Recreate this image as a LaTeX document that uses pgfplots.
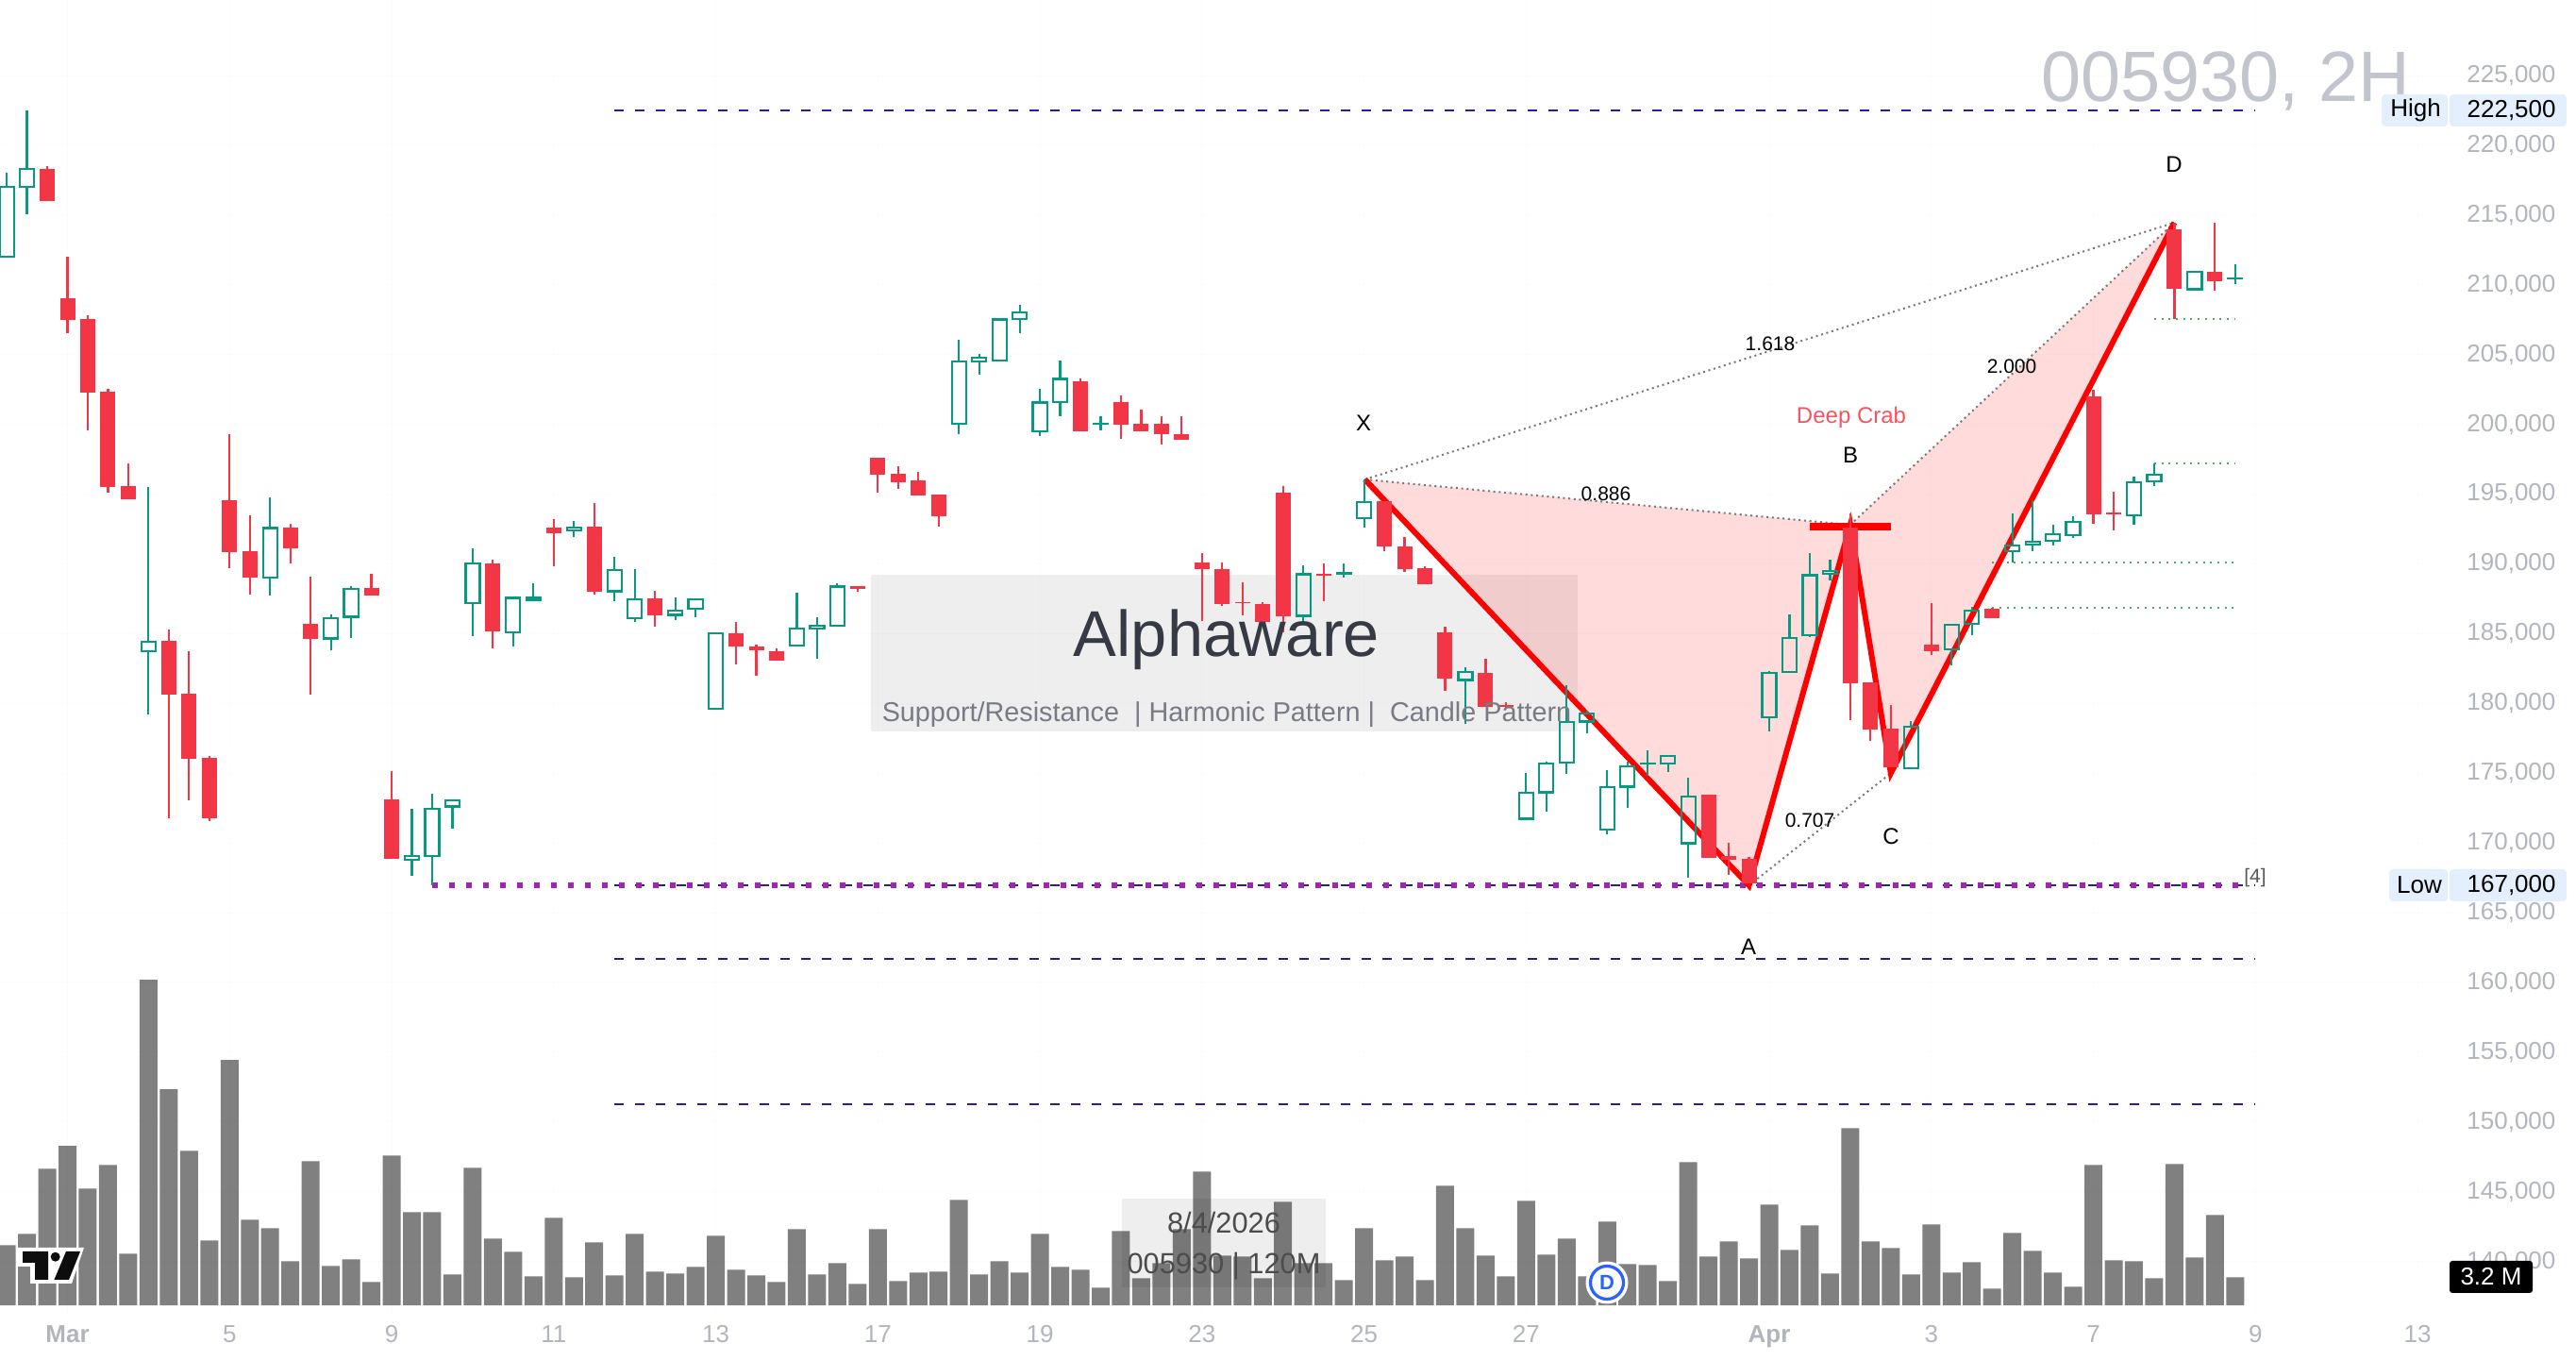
\documentclass[border=0pt]{standalone}
\usepackage{fontspec}
\setmainfont{Liberation Sans}
\usepackage{pgfplots}
\usepackage{pgfplotstable}
\pgfplotsset{compat=1.18}

\definecolor{upc}{HTML}{089981}
\definecolor{downc}{HTML}{F23645}
\definecolor{ticktxt}{HTML}{B2B5BE}
\definecolor{lvl}{HTML}{311B92}
\definecolor{lowdot}{HTML}{9C27B0}
\definecolor{sr}{HTML}{4CAF50}
\definecolor{dots}{HTML}{787878}
\definecolor{tagbg}{HTML}{E3EFFD}
\definecolor{wmark}{HTML}{363A45}
\definecolor{wsub}{HTML}{787B86}
\definecolor{titlec}{HTML}{C3C5CE}
\definecolor{badge}{HTML}{2962FF}

% bodies are top/bot, wicks high/low
\pgfplotstableread{
i top bot high low
0 216998 211989 218047 211989
1 218280 216998 222512 215056
7 184420 183760 195525 179217
13 192574 189041 194748 187720
16 186129 184653 186361 183798
17 188225 186206 188419 184691
20 169044 168810 172421 167645
21 172460 169044 173508 166985
22 173043 172616 173043 171023
23 190050 187176 191098 184808
25 187565 185079 187565 184070
26 187565 187400 188614 187332
28 192612 192379 193080 191914
30 189545 188031 190516 187332
31 187449 186129 189623 185817
33 186651 186349 187587 185986
34 187466 186771 187466 186168
35 185020 179614 185020 179614
39 185382 184174 187919 184053
40 185593 185382 186168 183208
41 188372 185593 188614 185533
47 204529 200029 206069 199304
48 204771 204529 205042 203563
49 207519 204559 207519 204559
50 208002 207549 208576 206522
51 201569 199486 202536 199153
52 203261 201600 204589 200573
54 200060 200060 200573 199576
64 189250 186277 189890 185682
66 189319 189319 190005 189044
67 194441 193252 196042 192612
72 182252 181680 182595 178547
75 173607 171731 175002 171617
76 175711 173630 175848 172235
77 178685 175734 181291 174933
78 179302 178707 179508 177861
79 174018 170931 175208 170611
80 175505 174041 175848 172509
81 175689 175689 176626 174842
82 176237 175689 176237 175070
83 173333 169970 174682 167500
87 182206 179004 182343 177975
88 184699 182229 186368 182229
89 189181 184882 190782 184745
90 189502 189296 190302 188815
94 178323 175328 178760 175328
96 185625 183875 185726 182698
97 186634 185692 186937 184919
99 191312 190908 193600 190100
100 191581 191379 194542 190941
101 192119 191682 192827 191312
102 193028 192052 193398 191884
105 195855 193466 196259 192793
106 196393 195922 197200 195552
108 210930 209685 210930 209550
110 210459 210459 211468 210055
}\upcandles

\pgfplotstableread{
i top bot high low
2 218318 215988 218512 215988
3 209038 207485 212028 206553
4 207562 202282 207834 199563
5 202359 195525 202553 195097
6 195564 194632 197195 194632
8 184497 180615 185273 171762
9 180692 176032 183720 173043
10 176110 171762 176265 171567
11 194554 190827 199291 189701
12 190905 189003 193467 187798
14 192612 191098 192885 190011
15 185702 184613 189080 180615
18 188264 187720 189273 187720
19 173120 168849 175138 168849
24 190011 185157 190283 183954
27 192612 192185 193196 189817
29 192651 187992 194360 187798
32 187526 186322 188070 185507
36 185020 184053 185835 182785
37 184084 183782 184204 181970
38 183751 183057 183933 183057
42 188433 188191 188433 188010
43 197613 196375 197613 195107
44 196466 195862 197009 195379
45 195983 194895 196586 194895
46 194956 193415 194956 192660
53 203079 199516 203291 199516
55 201600 199969 202083 198972
56 200029 199516 201056 199516
57 200029 199304 200573 198549
58 199304 198882 200573 198882
59 190093 189610 190788 185896
60 189610 187134 190093 187013
61 187290 187160 188674 186319
62 187134 185835 187225 185835
63 195105 186254 195562 185088
65 189320 189180 190005 187329
68 194487 191240 194487 190920
69 191240 189616 191926 189410
70 189684 188541 189799 188541
71 185088 181771 185500 180902
73 182183 179736 183189 179736
74 179900 179760 180080 179622
84 173447 168919 173447 168919
85 169056 168782 170016 167707
86 168851 167089 168965 167089
91 192612 181428 193595 178798
92 181520 178155 181520 177347
93 178188 175395 179871 175395
95 184212 183774 187173 183471
98 186769 186130 186836 186130
103 202012 193566 202484 192893
104 193670 193530 195181 192388
107 213992 209685 214463 207531
109 210964 210223 214463 209550
}\downcandles

% volume in millions
\pgfplotstableread{
i v
0 6.86
1 8.15
2 15.58
3 18.17
4 13.32
5 16.01
6 5.89
7 37.12
8 24.63
9 17.63
10 7.40
11 27.97
12 9.76
13 8.80
14 5.03
15 16.44
16 4.49
17 5.24
18 2.66
19 17.09
20 10.63
21 10.63
22 3.52
23 15.69
24 7.61
25 6.10
26 3.30
27 9.98
28 3.20
29 7.18
30 3.41
31 8.15
32 3.84
33 3.63
34 4.38
35 7.93
36 4.06
37 3.41
38 2.66
39 8.69
40 3.52
41 4.81
42 2.44
43 8.69
44 2.76
45 3.73
46 3.84
47 12.03
48 3.52
49 5.03
50 3.73
51 8.15
52 4.38
53 4.06
54 2.01
55 8.47
56 3.09
57 4.81
58 8.69
59 15.26
60 5.67
61 5.56
62 3.09
63 11.81
64 4.81
65 4.81
66 2.87
67 8.80
68 5.13
69 5.56
70 2.87
71 13.64
72 8.80
73 5.67
74 3.30
75 11.92
76 5.78
77 7.61
78 3.30
79 9.55
80 4.70
81 4.60
82 2.76
83 16.33
84 5.56
85 7.29
86 5.35
87 11.49
88 6.32
89 9.12
90 3.63
91 20.21
92 7.29
93 6.53
94 3.52
95 9.23
96 3.73
97 4.92
98 1.90
99 8.26
100 6.21
101 3.73
102 2.12
103 16.01
104 5.13
105 5.03
106 3.09
107 16.12
108 5.46
109 10.30
110 3.20
}\volumes

\pgfplotsset{
  base/.style={
    scale only axis, width=1304pt, height=697.5pt,
    xmin=-0.331, xmax=121.14,
    axis line style={draw=none}, tick style={draw=none},
  },
  wick/.style={no markers, line width=1.1pt, #1},
}
\tikzset{
  lab/.style={font=\fontsize{12}{14}\selectfont, inner sep=0pt, text=black},
  ratio/.style={font=\fontsize{10.5}{12}\selectfont, inner sep=0pt, text=black},
}

\begin{document}
\begin{tikzpicture}
\useasboundingbox (0,-22.5pt) rectangle (1365pt,697.5pt);

% watermark panel, sits under the pattern
\begin{scope}[x=0.5pt,y=-0.5pt,yshift=697.5pt]
  \fill[black!6.5] (923,609) rectangle (1672,775);
\end{scope}

% volume
\begin{axis}[base, ymin=-1.29, ymax=148.9, xtick=\empty, ytick=\empty]
\addplot[ybar, bar width=9.5pt, bar shift=0pt, fill=black!50, draw=none] table[x=i,y=v] {\volumes};
\end{axis}

% price
\begin{axis}[base, ymin=136055, ymax=230414,
  xtick={3,11,19,27,35,43,51,59,67,75,87,95,103,111,119},
  xticklabels={\textbf{Mar},5,9,11,13,17,19,23,25,27,\textbf{Apr},3,7,9,13},
  ytick={140000,145000,...,225000},
  yticklabel pos=right,
  grid=major, major grid style={draw=black, opacity=0.012, line width=0.5pt},
  ticklabel style={text=ticktxt, font=\fontsize{13}{15}\selectfont},
  xticklabel style={inner sep=0pt, yshift=-4.6pt},
  yticklabel style={anchor=west, inner sep=0pt, xshift=3pt,
    /pgf/number format/.cd, assume math mode=true, 1000 sep={,}, fixed},
  scaled y ticks=false,
]
% pattern fill
\addplot[fill=red, fill opacity=0.14, draw=none] coordinates {(67.04,196050) (86,166950) (91,192800)};
\addplot[fill=red, fill opacity=0.14, draw=none] coordinates {(91,192800) (93,175000) (107,214460)};
% levels
\addplot[lvl, line width=1.1pt, dash pattern=on 5pt off 6pt] coordinates {(30,222500) (111,222500)};
\addplot[lvl, line width=1.1pt, dash pattern=on 5pt off 6pt] coordinates {(30,166950) (111,166950)};
\addplot[lvl, line width=1.1pt, dash pattern=on 5pt off 6pt] coordinates {(30,161711) (111,161711)};
\addplot[lvl, line width=1.1pt, dash pattern=on 5pt off 6pt] coordinates {(30,151273) (111,151273)};
\addplot[lowdot, line width=3pt, dash pattern=on 3pt off 6pt] coordinates {(21,166950) (110.5,166950)};
% green dotted levels
\addplot[sr, line width=1pt, dash pattern=on 1pt off 2.85pt] coordinates {(106,207531) (110,207531)};
\addplot[sr, line width=1pt, dash pattern=on 1pt off 2.85pt] coordinates {(106,197202) (110,197202)};
\addplot[sr, line width=1pt, dash pattern=on 1pt off 2.85pt] coordinates {(98,190100) (110,190100)};
\addplot[sr, line width=1pt, dash pattern=on 1pt off 2.85pt] coordinates {(98,186830) (110,186830)};
% XABCD
\addplot[dots, line width=1pt, dash pattern=on 1pt off 1.85pt] coordinates {(67.04,196050) (107,214460)};
\addplot[dots, line width=1pt, dash pattern=on 1pt off 1.85pt] coordinates {(67.04,196050) (91,192800)};
\addplot[dots, line width=1pt, dash pattern=on 1pt off 1.85pt] coordinates {(86,166950) (93,175000)};
\addplot[dots, line width=1pt, dash pattern=on 1pt off 1.85pt] coordinates {(91,192800) (107,214460)};
\addplot[red, line width=3pt] coordinates {(67.04,196050) (86,166950) (91,192800) (93,175000) (107,214460)};
\addplot[red, line width=4pt] coordinates {(89,192670) (93,192670)};

% down candles
\addplot[wick=downc, quiver={u=0,v=\thisrow{high}-\thisrow{low}}] table[x=i,y=low] {\downcandles};
\addplot[no markers, downc, line width=8pt, quiver={u=0,v=\thisrow{top}-\thisrow{bot}}] table[x=i,y=bot] {\downcandles};
% up candles, hollow: wicks stop at the body
\addplot[wick=upc, quiver={u=0,v=\thisrow{high}-\thisrow{top}}] table[x=i,y=top] {\upcandles};
\addplot[wick=upc, quiver={u=0,v=\thisrow{low}-\thisrow{bot}}] table[x=i,y=bot] {\upcandles};
\addplot[wick=upc, line cap=rect, quiver={u=0,v=\thisrow{top}-\thisrow{bot}}] table[x expr=\thisrow{i}-0.35,y=bot] {\upcandles};
\addplot[wick=upc, line cap=rect, quiver={u=0,v=\thisrow{top}-\thisrow{bot}}] table[x expr=\thisrow{i}+0.35,y=bot] {\upcandles};
\addplot[wick=upc, line cap=rect, quiver={u=0.7,v=0}] table[x expr=\thisrow{i}-0.35,y=top] {\upcandles};
\addplot[wick=upc, line cap=rect, quiver={u=0.7,v=0}] table[x expr=\thisrow{i}-0.35,y=bot] {\upcandles};
\end{axis}

% labels in image pixels
\begin{scope}[x=0.5pt,y=-0.5pt,yshift=697.5pt]
  \node[font=\fontsize{34.3}{40}\selectfont, text=wmark, inner sep=0pt] at (1300,678) {Alphaware};
  \node[font=\fontsize{14.4}{17}\selectfont, text=wsub, inner sep=0pt] at (1300,757) {Support/Resistance\ \ | Harmonic Pattern |\ \ Candle Pattern};

  \node[font=\fontsize{37.8}{42}\selectfont, text=titlec, inner sep=0pt, anchor=base east] at (2555,108) {005930, 2H};

  \node[lab] at (1445,448) {X};
  \node[lab] at (1853,1003) {A};
  \node[lab] at (1961,482) {B};
  \node[lab] at (2004,886) {C};
  \node[lab] at (2304,174) {D};
  \node[lab, text=downc!85!white] at (1962,442) {Deep Crab};
  \node[ratio] at (1876,364) {1.618};
  \node[ratio] at (1702,523) {0.886};
  \node[ratio] at (1918,869) {0.707};
  \node[ratio] at (2132,388) {2.000};
  \node[ratio, text=black!65] at (2390,930) {[4]};

  % price tags
  \fill[tagbg, rounded corners=2pt] (2524,100) rectangle (2594,134);
  \fill[tagbg, rounded corners=2pt] (2596,100) rectangle (2720,134);
  \node[lab, font=\fontsize{13}{15}\selectfont] at (2560,117) {High};
  \node[lab, font=\fontsize{13}{15}\selectfont, anchor=east] at (2709,117) {222,500};
  \fill[tagbg, rounded corners=2pt] (2532,921) rectangle (2594,955);
  \fill[tagbg, rounded corners=2pt] (2596,921) rectangle (2720,955);
  \node[lab, font=\fontsize{13}{15}\selectfont] at (2564,938) {Low};
  \node[lab, font=\fontsize{13}{15}\selectfont, anchor=east] at (2709,938) {167,000};
  \fill[black, rounded corners=1.5pt] (2596,1336) rectangle (2684,1370);
  \node[lab, font=\fontsize{13}{15}\selectfont, text=white] at (2640,1353) {3.2 M};

  % time watermark
  \fill[black, opacity=0.065] (1189,1270) rectangle (1405,1364);
  \node[font=\fontsize{15.4}{18}\selectfont, text=black!70, inner sep=0pt] at (1297,1295) {8/4/2026};
  \node[font=\fontsize{15.4}{18}\selectfont, text=black!70, inner sep=0pt] at (1297,1342) {005930 | 120M};

  % logo
  \fill[white] (19,1322) -- (89,1322) -- (76,1360) -- (32,1360) -- (32,1342) -- (19,1342) -- cycle;
  \fill[black!95] (24,1326) -- (51,1326) -- (51,1356) -- (37,1356) -- (37,1338) -- (24,1338) -- cycle;
  \fill[black!95] (58.7,1331.7) circle[radius=5];
  \fill[black!95] (70,1326) -- (85,1326) -- (73,1356) -- (57.4,1356) -- cycle;

  % dividend badge
  \fill[white] (1703,1359) circle[radius=22.5];
  \draw[color=badge, line width=1.6pt] (1703,1359) circle[radius=17.5];
  \node[font=\bfseries\fontsize{11}{13}\selectfont, text=badge, inner sep=0pt] at (1703,1359) {D};
\end{scope}
\end{tikzpicture}
\end{document}
